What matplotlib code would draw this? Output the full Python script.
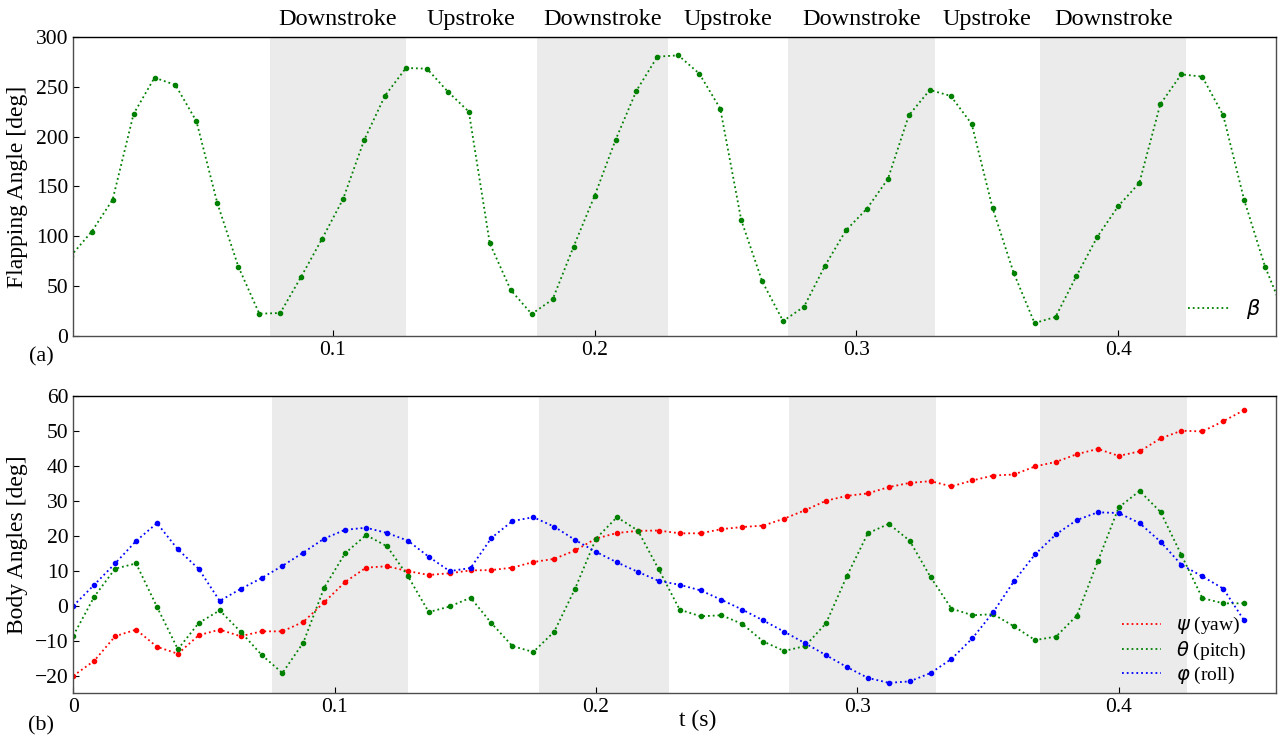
import matplotlib
matplotlib.use('Agg')
import matplotlib.pyplot as plt
import numpy as np

plt.rcParams['font.family'] = ['Liberation Serif', 'DejaVu Sans']
plt.rcParams['mathtext.fontset'] = 'dejavusans'
plt.rcParams['font.size'] = 15

dt = 0.008

# flapping angle beta [deg], sampled every dt from t = 0
beta = [80, 104.6, 136.7, 222.9, 259.4, 252.0, 215.5, 133.0, 69.4, 22.1,
        22.8, 59.3, 97.5, 137.4, 196.4, 241.3, 269.1, 268.4, 245.3, 225.2,
        92.8, 45.9, 21.8, 36.5, 89.5, 140.4, 196.7, 246.3, 280.5, 281.8,
        263.4, 228.2, 116.3, 54.6, 14.7, 29.2, 70.4, 105.9, 127.7, 157.5,
        221.5, 247.0, 241.0, 212.8, 128.0, 63.3, 12.7, 18.8, 60.0, 99.5,
        130.4, 153.5, 232.6, 262.7, 260.4, 221.8, 136.7, 69.4, 18]

# body angles [deg]
yaw = [-20.0, -15.7, -8.7, -6.8, -11.7, -13.7, -8.4, -6.8, -8.7, -7.3,
       -7.3, -4.6, 1.0, 6.8, 10.9, 11.3, 9.9, 8.8, 9.3, 10.1,
       10.2, 10.9, 12.5, 13.4, 15.8, 19.2, 20.8, 21.4, 21.5, 20.7,
       20.7, 21.9, 22.5, 22.9, 24.9, 27.3, 30.0, 31.4, 32.1, 33.9,
       35.1, 35.6, 34.1, 35.8, 37.2, 37.5, 39.8, 41.1, 43.3, 44.8,
       42.8, 44.1, 47.8, 50.0, 49.8, 52.7, 55.9]
pitch = [-8.5, 2.6, 10.6, 12.1, -0.3, -12.4, -4.9, -1.3, -7.4, -14.0,
         -19.2, -10.5, 5.2, 15.0, 20.2, 17.0, 8.5, -1.8, -0.2, 2.3,
         -5.0, -11.5, -13.2, -7.4, 4.9, 19.2, 25.3, 21.5, 10.4, -1.1,
         -3.0, -2.7, -5.2, -10.2, -12.9, -11.5, -5.0, 8.5, 20.7, 23.4,
         18.6, 8.2, -0.8, -2.7, -2.4, -5.9, -9.8, -8.8, -2.8, 12.7,
         28.1, 32.8, 26.8, 14.5, 2.2, 0.7, 0.7]
roll = [0.0, 6.0, 12.1, 18.5, 23.6, 16.1, 10.5, 1.4, 4.8, 7.9,
        11.4, 15.2, 19.2, 21.7, 22.3, 20.8, 18.6, 14.0, 9.9, 10.8,
        19.4, 24.2, 25.3, 22.6, 18.8, 15.4, 12.4, 9.7, 7.1, 6.0,
        4.4, 1.7, -1.1, -4.2, -7.4, -10.7, -14.1, -17.5, -20.6, -22.0,
        -21.6, -19.2, -15.2, -9.3, -1.8, 7.1, 14.7, 20.4, 24.5, 26.7,
        26.5, 23.6, 18.3, 11.7, 8.4, 4.9, -4.2]

# downstroke intervals [s]
downstrokes = [(0.076, 0.128), (0.178, 0.228), (0.274, 0.330), (0.370, 0.426)]

t_beta = np.arange(len(beta)) * dt
t_body = np.arange(len(yaw)) * dt

shade = '#ebebeb'
spine_col = '0.3'

fig = plt.figure(figsize=(12.8, 7.42), dpi=100)
ax1 = fig.add_axes([0.0573, 0.5476, 0.9392, 0.4022])
ax2 = fig.add_axes([0.0573, 0.0656, 0.9392, 0.4011])

for ax in (ax1, ax2):
    for a, b in downstrokes:
        ax.axvspan(a, b, color=shade, lw=0, zorder=0)
    ax.tick_params(direction='in', length=4, labelsize=15.5, top=False, right=False)
    for s in ax.spines.values():
        s.set_color(spine_col)
        s.set_linewidth(1.0)
    ax.spines['top'].set_color('black')

line_kw = dict(ls=':', lw=1.3, marker='o', ms=3)

ax1.plot(t_beta, beta, color='green', label=r'$\beta$', **line_kw)
ax1.set_xlim(0.001, 0.46)
ax1.set_ylim(0, 300)
ax1.set_xticks([0.1, 0.2, 0.3, 0.4])
ax1.set_yticks(np.arange(0, 301, 50))
ax1.set_ylabel('Flapping Angle [deg]', fontsize=17)
ax1.yaxis.set_label_coords(-0.038, 0.5)
h = [plt.Line2D([], [], color='green', ls=':', lw=1.3)]
ax1.legend(h, [r'$\beta$'], loc='lower right', frameon=False, fontsize=15,
           handlelength=2.0, borderaxespad=0.3)

ax2.plot(t_body, yaw, color='red', **line_kw)
ax2.plot(t_body, pitch, color='green', **line_kw)
ax2.plot(t_body, roll, color='blue', **line_kw)
ax2.set_xlim(0, 0.46)
ax2.set_ylim(-25, 60)
ax2.set_xticks([0, 0.1, 0.2, 0.3, 0.4])
ax2.set_xticklabels(['0', '0.1', '0.2', '0.3', '0.4'])
ax2.set_yticks(np.arange(-20, 61, 10))
ax2.set_ylabel('Body Angles [deg]', fontsize=17)
ax2.yaxis.set_label_coords(-0.038, 0.5)
ax2.set_xlabel('t (s)', fontsize=17)
ax2.xaxis.set_label_coords((698 - 73.3) / 1202, -0.055)
hs = [plt.Line2D([], [], color=c, ls=':', lw=1.3) for c in ('red', 'green', 'blue')]
ax2.legend(hs, [r'$\psi$ (yaw)', r'$\theta$ (pitch)', r'$\varphi$ (roll)'],
           loc='lower right', frameon=False, fontsize=14, handlelength=2.0,
           labelspacing=0.15, borderaxespad=0.0, bbox_to_anchor=(0.982, 0.0))

# stroke phase labels above the top panel
phases = ['Downstroke', 'Upstroke', 'Downstroke', 'Upstroke', 'Downstroke', 'Upstroke', 'Downstroke']
edges = [e for ab in downstrokes for e in ab]
centers = [(edges[i] + edges[i + 1]) / 2 for i in range(len(edges) - 1)]
for x, lab in zip(centers, phases):
    ax1.text(x, 1.025, lab, transform=ax1.get_xaxis_transform(), ha='center',
             va='bottom', fontsize=17.5)

fig.text(41 / 1280, 1 - 357 / 742, '(a)', ha='center', va='center', fontsize=16)
fig.text(41 / 1280, 1 - 726 / 742, '(b)', ha='center', va='center', fontsize=16)

fig.savefig('out.png', dpi=100)
